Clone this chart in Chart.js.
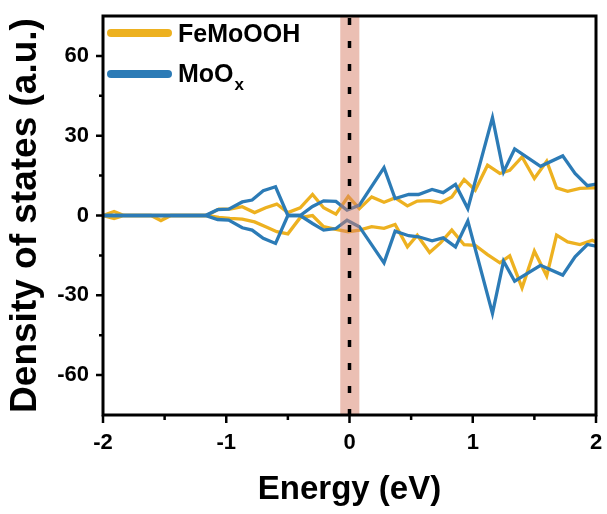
<!DOCTYPE html>
<html>
<head>
<meta charset="utf-8">
<script src="https://cdn.jsdelivr.net/npm/chart.js@4.4.1/dist/chart.umd.min.js"></script>
<style>
  html, body { margin: 0; padding: 0; background: #fff; }
</style>
</head>
<body>
<canvas id="dos" width="607" height="514"></canvas>
<script>
// Energy grid (eV) and DOS values
const energyFe = [-2.00, -1.91, -1.83, -1.61, -1.53, -1.45, -1.16, -1.06, -0.97, -0.87, -0.77, -0.68, -0.59, -0.50, -0.40, -0.30, -0.21, -0.11, -0.01, 0.08, 0.18, 0.28, 0.37, 0.47, 0.55, 0.65, 0.74, 0.83, 0.93, 1.02, 1.12, 1.22, 1.30, 1.40, 1.50, 1.60, 1.68, 1.77, 1.87, 1.97, 2.00];
const feUp = [0, 1.5, 0, 0, 0, 0, 0, 2.4, 2.4, 3.3, 1.1, 2.9, 4.3, 1.1, 2.9, 7.9, 2.9, 0.5, 7.2, 2.6, 7.0, 5.0, 6.6, 3.6, 5.4, 5.6, 4.8, 7.0, 13.5, 9.5, 18.9, 15.8, 17.0, 22.0, 13.9, 20.4, 10.4, 9.1, 10.2, 10.4, 10.4];
const feDown = [0, -1.1, 0, 0, -1.9, 0, 0, -0.7, -1.1, -1.4, -2.4, -4.2, -6.1, -6.9, -0.8, 0, -4.2, -5.2, -6.1, -5.5, -4.2, -4.8, -3.4, -11.8, -7.4, -13.9, -10.2, -5.5, -11.0, -11.2, -14.7, -17.8, -15.2, -27.2, -13.4, -22.7, -7.4, -9.9, -10.9, -9.3, -10.0];

const energyMo = [-2.00, -1.17, -1.07, -0.98, -0.87, -0.79, -0.70, -0.60, -0.50, -0.40, -0.30, -0.21, -0.11, -0.02, 0.08, 0.28, 0.37, 0.48, 0.56, 0.67, 0.76, 0.86, 0.96, 1.16, 1.25, 1.34, 1.55, 1.73, 1.83, 1.93, 2.00];
const moUp = [0, 0, 2.2, 2.4, 5.1, 5.8, 9.3, 10.8, 0, 0, 3.4, 5.5, 5.3, 2.0, 3.9, 18.0, 6.4, 7.9, 7.9, 9.8, 8.6, 11.7, 2.6, 36.8, 16.4, 25.0, 18.5, 22.4, 15.8, 11.2, 11.8];
const moDown = [0, 0, -1.5, -1.7, -4.6, -5.5, -8.6, -10.5, 0, 0, -3.0, -5.5, -4.9, -1.8, -4.2, -17.8, -5.9, -7.6, -8.0, -9.5, -8.4, -11.8, -2.1, -36.8, -17.2, -24.7, -18.7, -22.4, -15.5, -10.9, -11.5];

const xTicks = [-2, -1, 0, 1, 2];
const xMinor = [-1.5, -0.5, 0.5, 1.5];
const yTicks = [-60, -30, 0, 30, 60];
const yMinor = [-45, -15, 15, 45];
const fermiBand = [-0.075, 0.08];

const YELLOW = '#EDB120';
const BLUE = '#2C7BB6';
const FONT = '"Liberation Sans", Arial, sans-serif';

Chart.defaults.font.family = FONT;
Chart.defaults.color = '#000';

const pts = (xs, ys) => xs.map((x, i) => ({ x: x, y: ys[i] }));

function line(data, color) {
    return {
        data: data,
        borderColor: color,
        borderWidth: 3.3,
        pointRadius: 0,
        tension: 0,
        fill: false
    };
}

// fermi band, dotted line, frame, ticks and legend
const decor = {
    id: 'decor',
    afterDatasetsDraw(chart) {
        const { ctx, chartArea: a, scales: { x, y } } = chart;
        ctx.save();

        const b0 = x.getPixelForValue(fermiBand[0]);
        const b1 = x.getPixelForValue(fermiBand[1]);
        ctx.fillStyle = 'rgba(216,128,104,0.5)';
        ctx.fillRect(b0, a.top, b1 - b0, a.bottom - a.top);

        const x0 = x.getPixelForValue(0);
        ctx.strokeStyle = '#000';
        ctx.lineWidth = 3.5;
        ctx.setLineDash([7, 16]);
        ctx.beginPath();
        ctx.moveTo(x0, a.top + 2);
        ctx.lineTo(x0, a.bottom);
        ctx.stroke();
        ctx.setLineDash([]);

        ctx.lineWidth = 3;
        ctx.strokeRect(a.left, a.top, a.right - a.left, a.bottom - a.top);

        ctx.lineWidth = 2.5;
        ctx.beginPath();
        xTicks.forEach(v => { const p = x.getPixelForValue(v); ctx.moveTo(p, a.bottom); ctx.lineTo(p, a.bottom + 8); });
        xMinor.forEach(v => { const p = x.getPixelForValue(v); ctx.moveTo(p, a.bottom); ctx.lineTo(p, a.bottom + 5); });
        yTicks.forEach(v => { const p = y.getPixelForValue(v); ctx.moveTo(a.left, p); ctx.lineTo(a.left - 7, p); });
        yMinor.forEach(v => { const p = y.getPixelForValue(v); ctx.moveTo(a.left, p); ctx.lineTo(a.left - 4, p); });
        ctx.stroke();

        // legend
        ctx.lineCap = 'round';
        ctx.lineWidth = 8;
        ctx.strokeStyle = YELLOW;
        ctx.beginPath(); ctx.moveTo(111, 33); ctx.lineTo(168, 33); ctx.stroke();
        ctx.strokeStyle = BLUE;
        ctx.beginPath(); ctx.moveTo(111, 74); ctx.lineTo(168, 74); ctx.stroke();

        ctx.fillStyle = '#000';
        ctx.textBaseline = 'alphabetic';
        ctx.textAlign = 'left';
        ctx.font = 'bold 25px ' + FONT;
        ctx.fillText('FeMoOOH', 178, 42);
        ctx.fillText('MoO', 178, 82);
        const w = ctx.measureText('MoO').width;
        ctx.font = 'bold 17px ' + FONT;
        ctx.fillText('x', 178 + w + 1, 90);
        ctx.restore();
    }
};

function noPad(scale) {
    scale.paddingTop = 0;
    scale.paddingBottom = 0;
    scale.paddingLeft = 0;
    scale.paddingRight = 0;
}

new Chart(document.getElementById('dos'), {
    type: 'line',
    data: {
        datasets: [
            line(pts(energyMo, moUp), BLUE),
            line(pts(energyMo, moDown), BLUE),
            line(pts(energyFe, feUp), YELLOW),
            line(pts(energyFe, feDown), YELLOW)
        ]
    },
    options: {
        responsive: false,
        animation: false,
        layout: { padding: { left: 0, right: 11, top: 16, bottom: 0 } },
        plugins: { legend: { display: false }, tooltip: { enabled: false } },
        scales: {
            x: {
                type: 'linear',
                min: -2,
                max: 2,
                afterBuildTicks: s => { s.ticks = xTicks.map(v => ({ value: v })); },
                afterFit: s => { s.height = 99; noPad(s); },
                grid: { display: false, drawTicks: false },
                border: { display: false },
                ticks: { padding: 15, font: { size: 22, weight: 'bold' }, color: '#000', maxRotation: 0, callback: v => String(v) },
                title: { display: true, text: 'Energy (eV)', color: '#000', font: { size: 33, weight: 'bold' }, padding: { top: 0, bottom: 4 } }
            },
            y: {
                min: -75,
                max: 75,
                afterBuildTicks: s => { s.ticks = yTicks.map(v => ({ value: v })); },
                afterFit: s => { s.width = 103; noPad(s); },
                grid: { display: false, drawTicks: false },
                border: { display: false },
                ticks: { padding: 14, font: { size: 22, weight: 'bold' }, color: '#000', callback: v => String(v) },
                title: { display: true, text: 'Density of states (a.u.)', color: '#000', font: { size: 37, weight: 'bold' }, padding: { top: 4, bottom: 0 } }
            }
        }
    },
    plugins: [decor]
});
</script>
</body>
</html>
